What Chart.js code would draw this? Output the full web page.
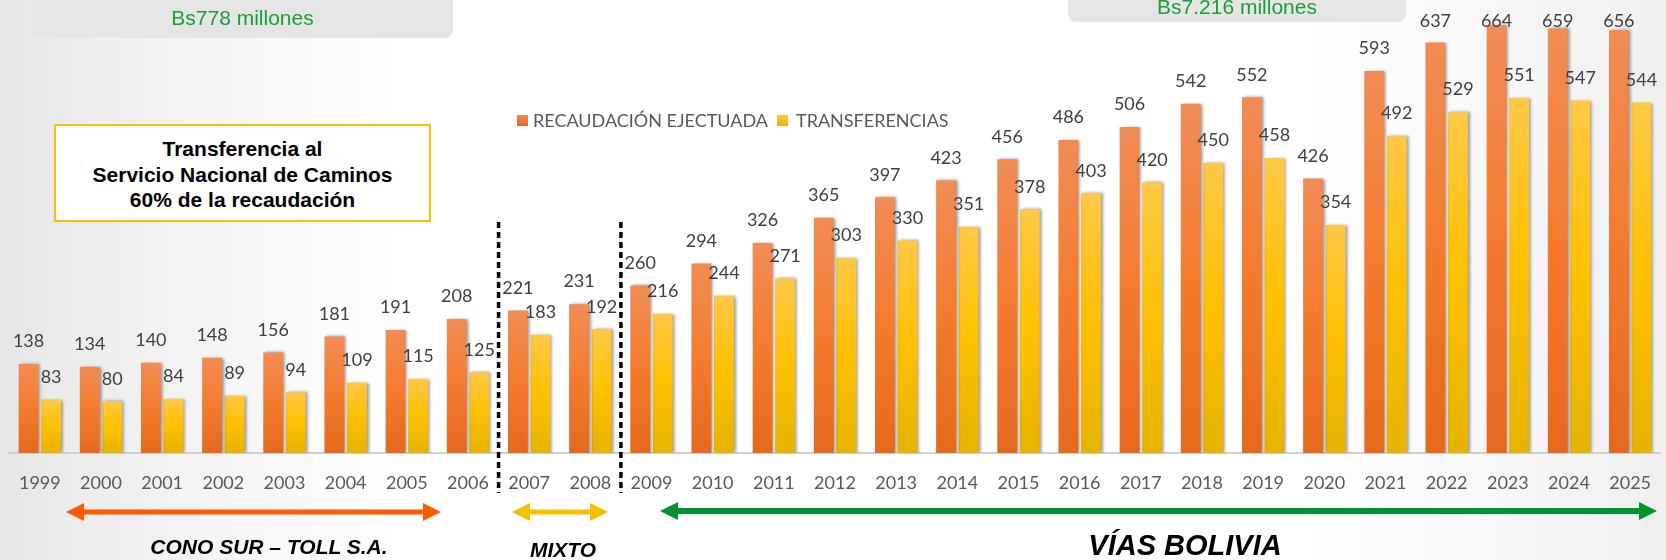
<!DOCTYPE html>
<html>
<head>
<meta charset="utf-8">
<script src="https://cdn.jsdelivr.net/npm/chart.js@4"></script>
<style>
  body { margin: 0; overflow: hidden; }
  #wrap {
    position: relative; width: 1666px; height: 560px; overflow: hidden;
    background: linear-gradient(to right, #e6e6e6 0%, #f2f2f2 10%, #ffffff 24%, #ffffff 78%, #f6f6f6 92%, #efefef 100%);
  }
  #histogram { position: absolute; left: 0; top: 0; }
  .grey_box { position: absolute; background: #e5e5e5; border-radius: 8px; }
  .green_txt { position: absolute; left: 0; right: 0; text-align: center; color: #1a9e3a;
    font: 21px "Liberation Sans", Arial, sans-serif; line-height: 24px; }
  #callout { position: absolute; left: 54px; top: 124px; width: 373px; height: 94px;
    border: 2px solid #ffc000; background: #fff; text-align: center;
    font: bold 21px "Liberation Sans", Arial, sans-serif; line-height: 25.5px; color: #000;
    box-sizing: content-box; }
  #callout div { padding-top: 10px; }
  .legend_sq { position: absolute; width: 11px; height: 11px; top: 115px; }
  .legend_txt { position: absolute; top: 110px; font: 18px Lato, sans-serif; line-height: 20px; color: #595959; white-space: nowrap; }
  .period { position: absolute; font: italic bold 21px "Liberation Sans", Arial, sans-serif; line-height: 24px;
    color: #000; white-space: nowrap; transform: translateX(-50%); }
  svg { position: absolute; left: 0; top: 0; }
</style>
</head>
<body>
<div id="wrap">
  <canvas id="histogram" width="1670" height="560"></canvas>

  <div class="grey_box" style="left:32px; top:-10px; width:421px; height:48px;">
    <div class="green_txt" style="top:16px;">Bs778 millones</div>
  </div>
  <div class="grey_box" style="left:1068px; top:-20px; width:338px; height:42px;">
    <div class="green_txt" style="top:15px;">Bs7.216 millones</div>
  </div>

  <div id="callout"><div>Transferencia al<br>Servicio Nacional de Caminos<br>60% de la recaudación</div></div>

  <div class="legend_sq" style="left:517px; background:linear-gradient(#f08c55,#e7691d);"></div>
  <div class="legend_txt" style="left:533px;">RECAUDACIÓN EJECTUADA</div>
  <div class="legend_sq" style="left:777px; background:linear-gradient(#ffc846,#e5b300);"></div>
  <div class="legend_txt" style="left:796px;">TRANSFERENCIAS</div>

  <svg width="1666" height="560">
    <polygon fill="#ff5a00" points="66,512 84,503 84,509.5 423,509.5 423,503 441,512 423,521 423,514.5 84,514.5 84,521"/>
    <polygon fill="#f7c000" points="512,512 530,503 530,509.5 590,509.5 590,503 608,512 590,521 590,514.5 530,514.5 530,521"/>
    <polygon fill="#00932f" points="660,511 678,502 678,508 1639,508 1639,502 1657,511 1639,520 1639,514 678,514 678,520"/>
  </svg>

  <div class="period" style="left:269px; top:535px;">CONO SUR – TOLL S.A.</div>
  <div class="period" style="left:563px; top:538px;">MIXTO</div>
  <div class="period" style="left:1185px; top:528px; font-size:29px; line-height:34px;">VÍAS BOLIVIA</div>
</div>

<script>
/* Valores (millones de Bs) */
var years = ['1999', '2000', '2001', '2002', '2003', '2004', '2005', '2006', '2007', '2008', '2009', '2010', '2011', '2012',
             '2013', '2014', '2015', '2016', '2017', '2018', '2019', '2020', '2021', '2022', '2023', '2024', '2025'];
var recaudacion = [138, 134, 140, 148, 156, 181, 191, 208, 221, 231, 260, 294, 326, 365,
                   397, 423, 456, 486, 506, 542, 552, 426, 593, 637, 664, 659, 656];
var transferencias = [83, 80, 84, 89, 94, 109, 115, 125, 183, 192, 216, 244, 271, 303,
                      330, 351, 378, 403, 420, 450, 458, 354, 492, 529, 551, 547, 544];
/* cambios de operador: la linea va antes de estos años */
var period_breaks = ['2007', '2009'];

/* Degradado vertical por barra */
function barGradient(stops, fallback) {
  return function(c) {
    var chart = c.chart;
    var area = chart.chartArea;
    if (!area || c.raw === undefined) return fallback;
    var top = chart.scales.y.getPixelForValue(c.raw);
    var g = chart.ctx.createLinearGradient(0, top, 0, area.bottom);
    for (var i = 0; i < stops.length; i++) g.addColorStop(stops[i][0], stops[i][1]);
    return g;
  };
}

/* Sombra de las barras, etiquetas y lineas punteadas */
const decorations = {
  id: 'decorations',
  beforeDatasetsDraw(chart) {
    const ctx = chart.ctx;
    ctx.save();
    ctx.shadowColor = 'rgba(0,0,0,0.4)';
    ctx.shadowBlur = 3;
    ctx.shadowOffsetX = 2;
    ctx.shadowOffsetY = 0;
  },
  afterDatasetsDraw(chart) {
    const ctx = chart.ctx;
    ctx.restore();
    ctx.save();
    ctx.font = '18px Lato';
    ctx.fillStyle = '#404040';
    ctx.textAlign = 'center';
    ctx.textBaseline = 'middle';
    chart.data.datasets.forEach(function(ds, i) {
      chart.getDatasetMeta(i).data.forEach(function(bar, j) {
        ctx.fillText(ds.data[j], bar.x, Math.max(bar.y - 22.5, 20.7));
      });
    });
    ctx.restore();
  },
  afterDraw(chart) {
    const ctx = chart.ctx;
    const x = chart.scales.x;
    ctx.save();
    ctx.strokeStyle = '#000';
    ctx.lineWidth = 3.5;
    ctx.setLineDash([6, 4]);
    period_breaks.forEach(function(y) {
      const idx = years.indexOf(y);
      const px = (x.getPixelForValue(idx) + x.getPixelForValue(idx - 1)) / 2;
      ctx.beginPath();
      ctx.moveTo(px, 222);
      ctx.lineTo(px, 493);
      ctx.stroke();
    });
    ctx.restore();
  }
};

const ctx = document.getElementById('histogram');

const hist = new Chart(ctx, {
  type: 'bar',
  data: {
    labels: years,
    datasets: [{
      label: 'RECAUDACIÓN EJECTUADA',
      data: recaudacion,
      backgroundColor: barGradient([[0, '#f08c55'], [0.5, '#f47b2e'], [1, '#e5691d']], '#f07b30'),
      borderWidth: 0,
      categoryPercentage: 0.737,
      barPercentage: 0.88
    }, {
      label: 'TRANSFERENCIAS',
      data: transferencias,
      backgroundColor: barGradient([[0, '#ffc846'], [0.5, '#ffc000'], [1, '#e5b300']], '#ffc000'),
      borderWidth: 0,
      categoryPercentage: 0.737,
      barPercentage: 0.88
    }]
  },
  options: {
    responsive: false,
    maintainAspectRatio: false,
    animation: false,
    devicePixelRatio: 1,
    events: [],
    layout: { padding: { left: 5.5, right: 1, top: 2, bottom: 47.4 } },
    plugins: { legend: { display: false }, tooltip: { enabled: false } },
    scales: {
      x: {
        grid: { display: true, drawOnChartArea: false, drawTicks: false },
        border: { display: true, color: '#cfcfcf', width: 2 },
        ticks: { font: { family: 'Lato', size: 18 }, color: '#595959', padding: 19, maxRotation: 0, autoSkip: false }
      },
      y: { display: false, min: 0, max: 700 }
    }
  },
  plugins: [decorations]
});
</script>
</body>
</html>
